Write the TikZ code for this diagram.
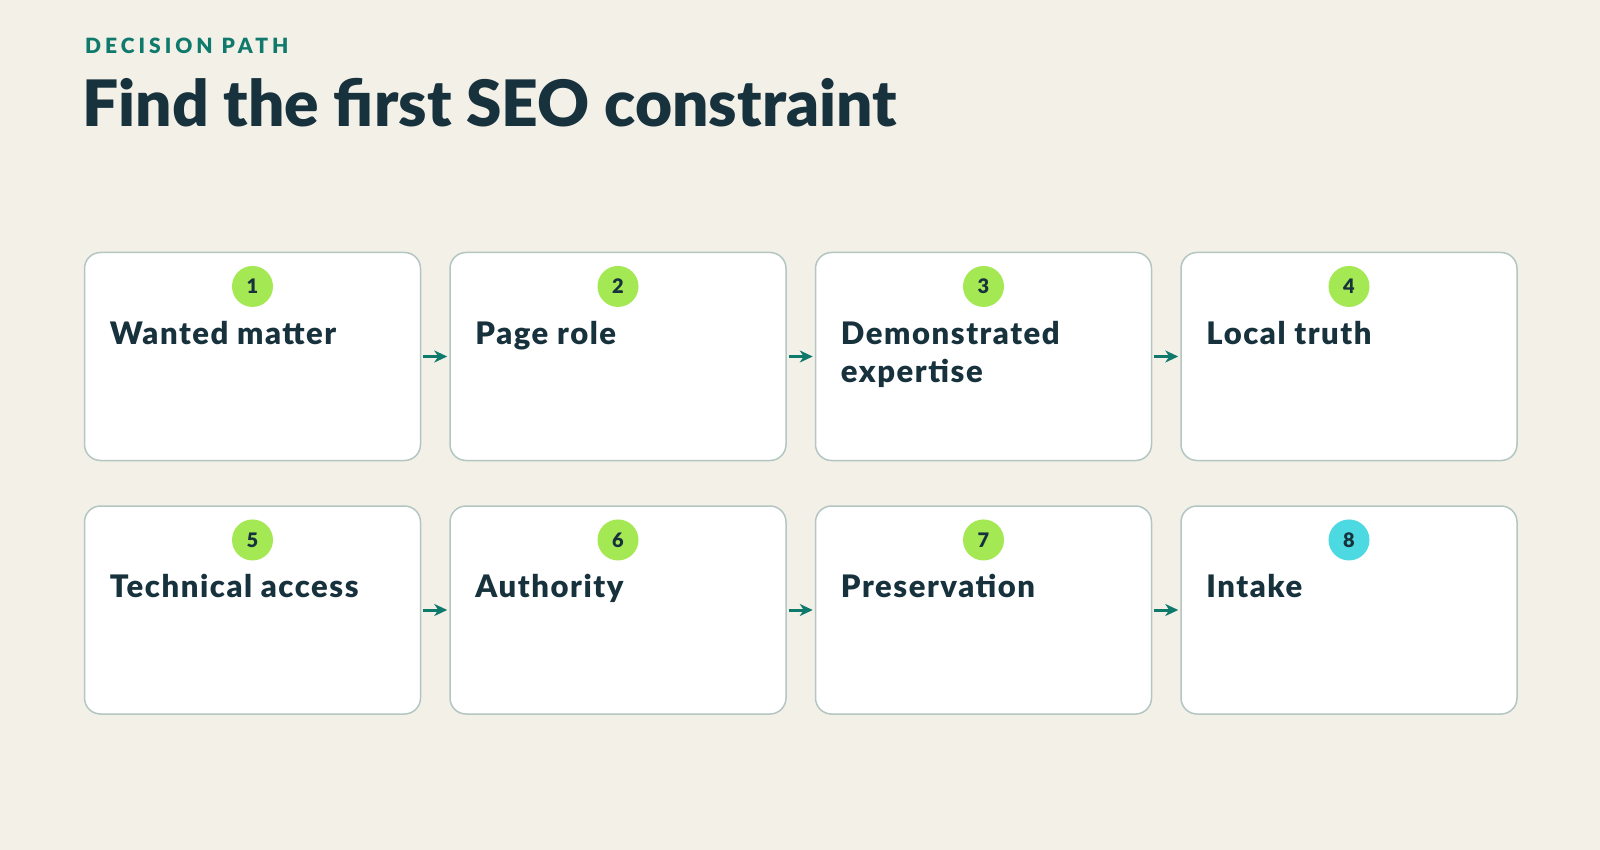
\documentclass[tikz,border=0pt]{standalone}
\usepackage{fontspec}
\setmainfont{Lato}[BoldFont={Lato Black}]
\newfontfamily\kickerfont[LetterSpace=19,BoldFont={Lato Black}]{Lato}
\newfontfamily\cardfont[LetterSpace=5,BoldFont={Lato Black}]{Lato}
\usetikzlibrary{positioning,arrows.meta}

\definecolor{bgcream}{HTML}{F3F0E8}
\definecolor{inkdark}{HTML}{17323D}
\definecolor{tealmark}{HTML}{0F7A6C}
\definecolor{edgegrey}{HTML}{B4C6C2}
\definecolor{limedot}{HTML}{A4E854}
\definecolor{cyandot}{HTML}{4DD9E2}

\begin{document}
\begin{tikzpicture}[x=1pt,y=-1pt,
    card/.style={draw=edgegrey, line width=1.5pt, fill=white, rounded corners=16pt,
      minimum width=336pt, minimum height=208pt, inner sep=0pt},
    badge/.style={circle, fill=limedot, minimum size=41pt, inner sep=0pt,
      text=inkdark, font=\fontsize{20}{20}\selectfont\bfseries},
    cardtext/.style={anchor=north west, inner sep=0pt, align=left, text=inkdark,
      font=\fontsize{31}{38}\selectfont\cardfont\bfseries},
    flow/.style={draw=tealmark, line width=3pt, shorten <=2pt, shorten >=2pt,
      -{Stealth[length=13pt,width=12pt,inset=4pt]}}]
  \useasboundingbox[fill=bgcream] (0,0) rectangle (1600,850);

  % heading
  \node[anchor=base west, inner sep=0pt, text=tealmark,
    font=\fontsize{21}{21}\selectfont\kickerfont\bfseries] (kicker) at (85,54) {DECISION PATH};
  \node[anchor=base west, inner sep=0pt, text=inkdark,
    font=\fontsize{64}{70}\selectfont\bfseries] (title) at (82,126.5) {Find the first SEO constraint};

  % first row
  \node[card] (b1) at (252.5,356.5) {};
  \node[card, right=28pt of b1] (b2) {};
  \node[card, right=28pt of b2] (b3) {};
  \node[card, right=28pt of b3] (b4) {};
  % second row
  \node[card, below=44pt of b1] (b5) {};
  \node[card, right=28pt of b5] (b6) {};
  \node[card, right=28pt of b6] (b7) {};
  \node[card, right=28pt of b7] (b8) {};

  % step numbers
  \node[badge, below=14pt of b1.north] (c1) {1};
  \node[badge, below=14pt of b2.north] (c2) {2};
  \node[badge, below=14pt of b3.north] (c3) {3};
  \node[badge, below=14pt of b4.north] (c4) {4};
  \node[badge, below=14pt of b5.north] (c5) {5};
  \node[badge, below=14pt of b6.north] (c6) {6};
  \node[badge, below=14pt of b7.north] (c7) {7};
  \node[badge, fill=cyandot, below=14pt of b8.north] (c8) {8};

  % labels
  \node[cardtext] (t1) at ([shift={(26,69)}]b1.north west) {Wanted matter};
  \node[cardtext] (t2) at ([shift={(26,69)}]b2.north west) {Page role};
  \node[cardtext] (t3) at ([shift={(26,69)}]b3.north west) {Demonstrated\\expertise};
  \node[cardtext] (t4) at ([shift={(26,69)}]b4.north west) {Local truth};
  \node[cardtext] (t5) at ([shift={(26,69)}]b5.north west) {Technical access};
  \node[cardtext] (t6) at ([shift={(26,69)}]b6.north west) {Authority};
  \node[cardtext] (t7) at ([shift={(26,69)}]b7.north west) {Preservation};
  \node[cardtext] (t8) at ([shift={(26,69)}]b8.north west) {Intake};

  % connectors
  \draw[flow] (b1.east) -- (b2.west);
  \draw[flow] (b2.east) -- (b3.west);
  \draw[flow] (b3.east) -- (b4.west);
  \draw[flow] (b5.east) -- (b6.west);
  \draw[flow] (b6.east) -- (b7.west);
  \draw[flow] (b7.east) -- (b8.west);
\end{tikzpicture}
\end{document}
